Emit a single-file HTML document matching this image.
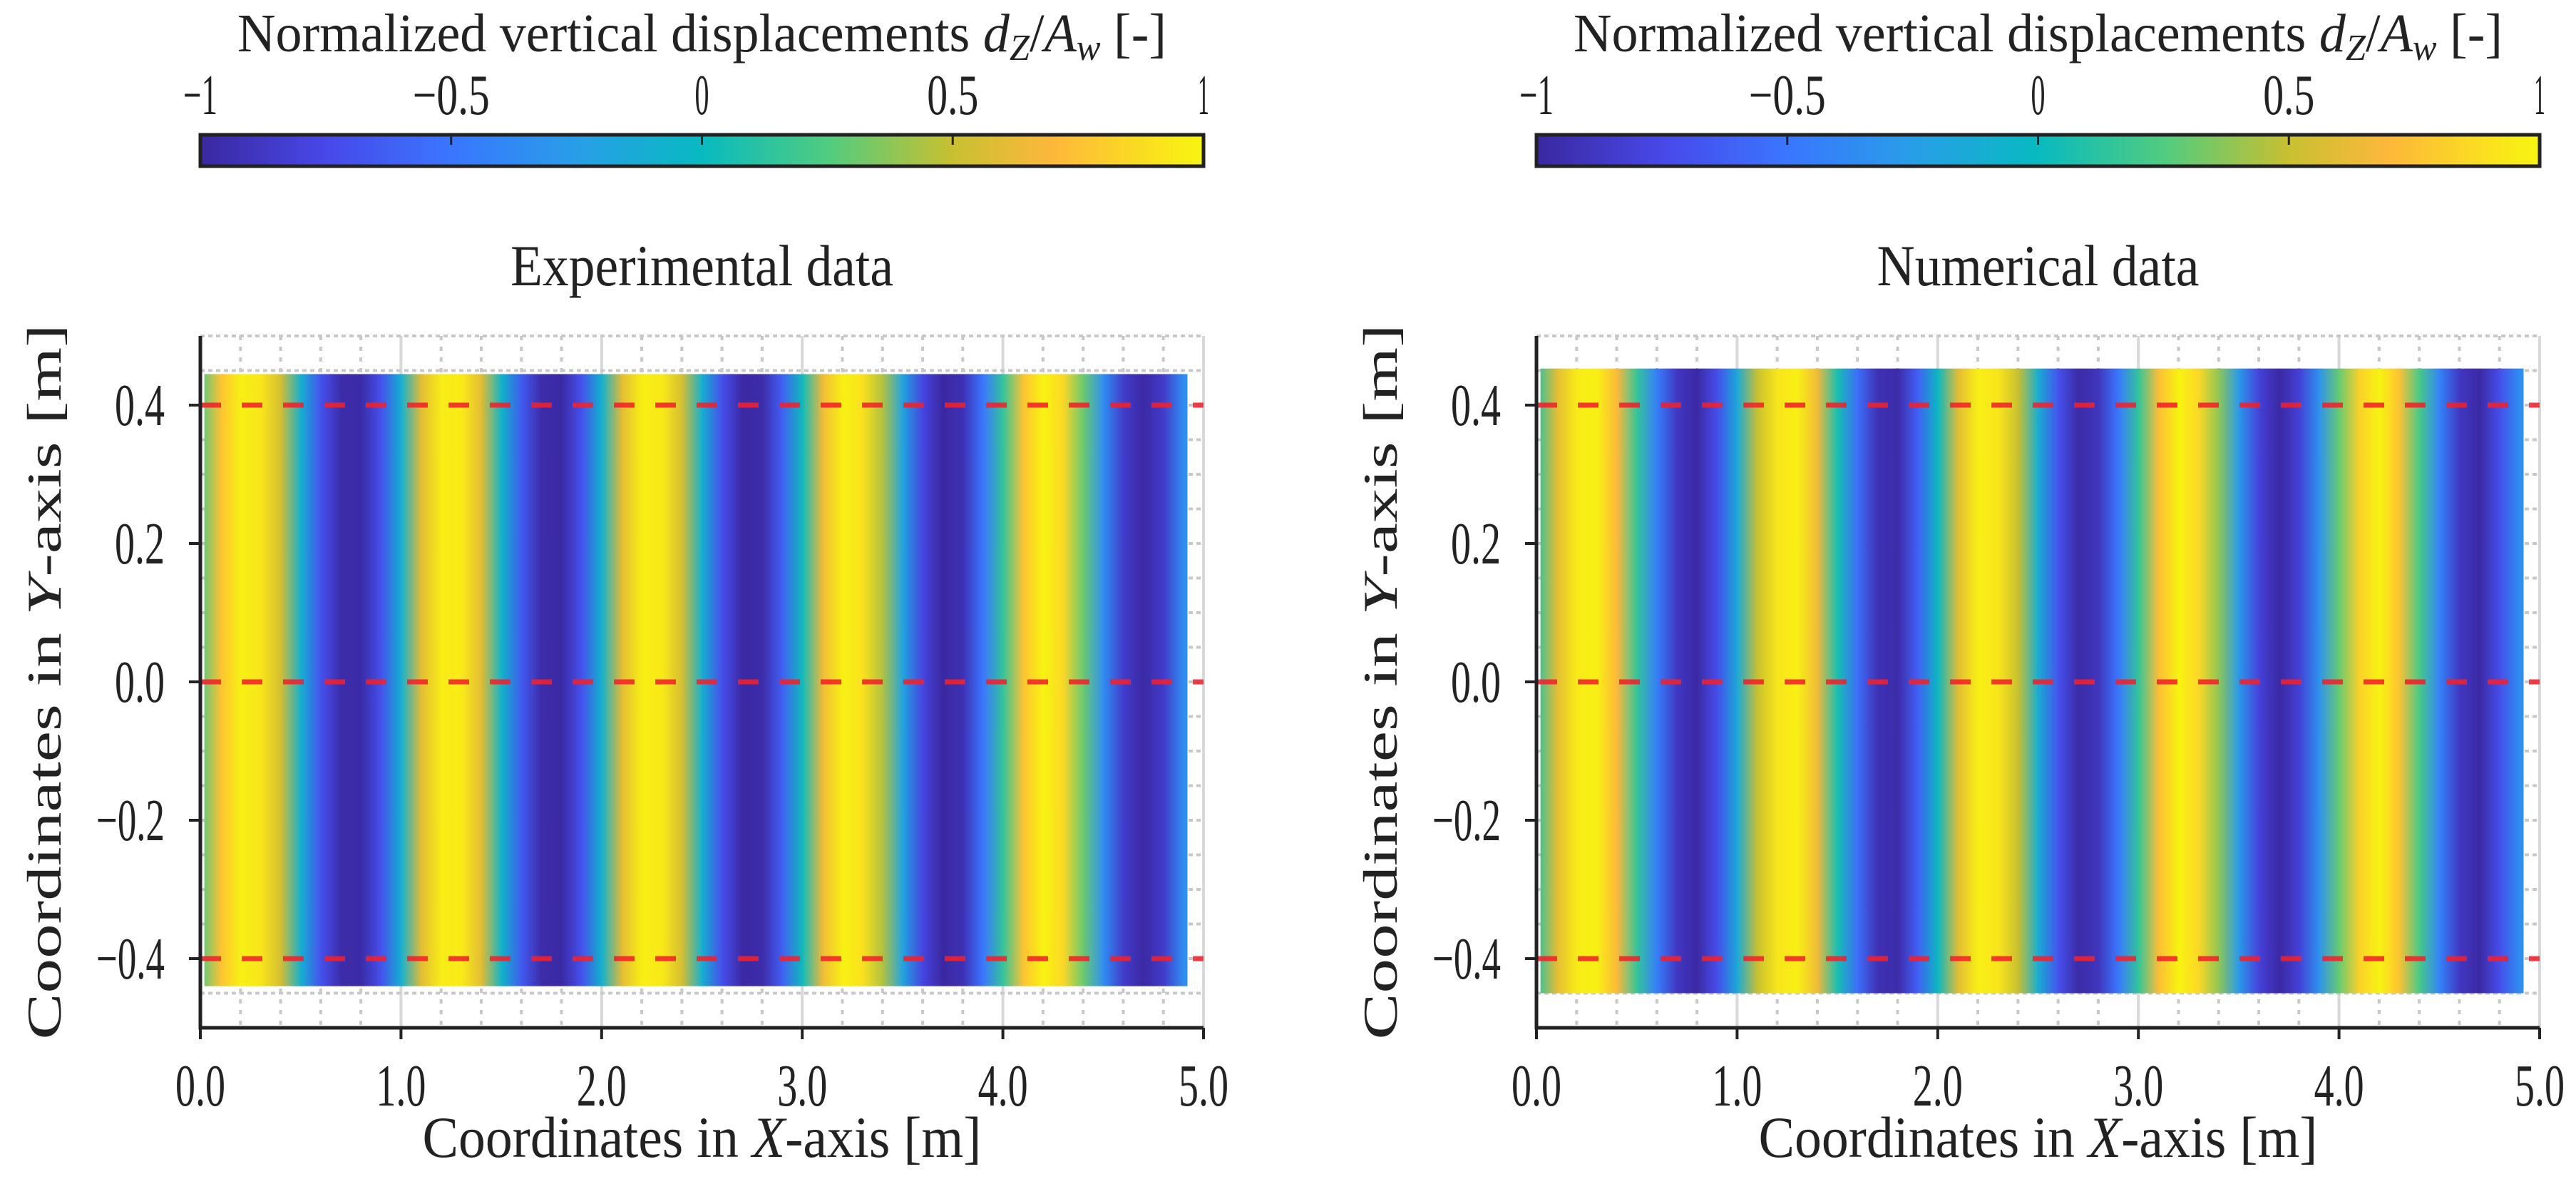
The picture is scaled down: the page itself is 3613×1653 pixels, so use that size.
<!DOCTYPE html>
<html><head><meta charset="utf-8"><style>
html,body{margin:0;padding:0;background:#fff}
svg{display:block}
text{font-family:"Liberation Serif",serif;fill:#222}
</style></head><body>
<svg id="fig" width="3613" height="1653" viewBox="0 0 3613 1653" xmlns="http://www.w3.org/2000/svg">
<defs id="defs"></defs>
</svg>
<script>
// ---- data ----
const xSamples = [0.0,0.1,0.2,0.3,0.4,0.5,0.6,0.7,0.8,0.9,1.0,1.1,1.2,1.3,1.4,1.5,1.6,1.7,1.8,1.9,2.0,2.1,2.2,2.3,2.4,2.5,2.6,2.7,2.8,2.9,3.0,3.1,3.2,3.3,3.4,3.5,3.6,3.7,3.8,3.9,4.0,4.1,4.2,4.3,4.4,4.5,4.6,4.7,4.8,4.9];
const expValues = [0.25,0.75,0.98,0.92,0.55,-0.1,-0.7,-0.97,-0.98,-0.7,-0.1,0.6,0.96,0.95,0.6,-0.05,-0.65,-0.97,-0.99,-0.7,-0.08,0.6,0.97,0.94,0.55,-0.1,-0.72,-0.99,-0.97,-0.62,0.02,0.65,0.98,0.9,0.45,-0.2,-0.78,-1.0,-0.93,-0.5,0.15,0.75,0.99,0.85,0.3,-0.35,-0.85,-0.99,-0.85,-0.35];
const numValues = [0.1,0.6,0.95,0.98,0.7,0.15,-0.45,-0.88,-0.99,-0.72,-0.15,0.5,0.92,0.97,0.65,0.05,-0.55,-0.93,-0.97,-0.62,-0.02,0.6,0.97,0.92,0.5,-0.12,-0.7,-0.98,-0.9,-0.48,0.15,0.73,0.99,0.85,0.38,-0.28,-0.8,-0.99,-0.82,-0.32,0.3,0.82,0.99,0.75,0.22,-0.42,-0.88,-0.99,-0.72,-0.35];
const xTickLabels = ["0.0","1.0","2.0","3.0","4.0","5.0"];
const xTicks = [0,1,2,3,4,5];
const yTickLabels = ["\u22120.4","\u22120.2","0.0","0.2","0.4"];
const yTicks = [-0.4,-0.2,0,0.2,0.4];
const cbTicks = [-1,-0.5,0,0.5,1];
const cbTickLabels = ["\u22121","\u22120.5","0","0.5","1"];
const refLines = [0.4,0,-0.4];

const NS="http://www.w3.org/2000/svg";
const svg=document.getElementById('fig');
const defs=document.getElementById('defs');
function el(tag,attrs,parent){const e=document.createElementNS(NS,tag);for(const k in attrs)e.setAttribute(k,attrs[k]);(parent||svg).appendChild(e);return e;}

const cmapStops=[[-1,[58,40,160]],[-0.75,[72,72,232]],[-0.5,[58,118,255]],[-0.25,[40,158,232]],[0,[8,186,192]],[0.25,[80,204,128]],[0.5,[200,192,48]],[0.7,[253,184,58]],[1,[248,245,16]]];
function cmap(v){v=Math.max(-1,Math.min(1,v));for(let i=0;i<cmapStops.length-1;i++){const a=cmapStops[i],b=cmapStops[i+1];if(v<=b[0]){const t=(v-a[0])/(b[0]-a[0]);const c=a[1].map((x,j)=>Math.round(x+(b[1][j]-x)*t));return `rgb(${c[0]},${c[1]},${c[2]})`;}}return 'rgb(248,245,16)';}

let gid=0;
function panel(ox, title, values, pname, dataTop, dataBot){
  const L=ox, R=ox+1407, T=471, B=1441;
  const sx=x=>L+(x/5)*(R-L);
  const sy=y=>956-y*970;
  const g=el('g',{});  
  for(let k=0;k<=25;k++){const x=k*0.2;const major=(k%5===0);
    const ln=el('line',{x1:sx(x),x2:sx(x),y1:T,y2:B,stroke:major?'#d8d8d8':'#c8c8c8','stroke-width':4,'stroke-dasharray':major?'none':'6 9'},g);
    }
  for(let k=0;k<=20;k++){const y=-0.5+k*0.05;
    const ln=el('line',{x1:L,x2:R,y1:sy(y),y2:sy(y),stroke:'#c8c8c8','stroke-width':4,'stroke-dasharray':'6 5'},g);
    }
  const clipId='clip'+(gid++);
  const cp=el('clipPath',{id:clipId},defs);
  el('rect',{x:sx(0.02),y:sy(dataTop),width:sx(4.92)-sx(0.02),height:sy(dataBot)-sy(dataTop)},cp);
  const hm=el('g',{'clip-path':`url(#${clipId})`},g);
  
  for(let i=0;i<xSamples.length;i++){
    const v0=values[i], v1=(i+1<values.length)?values[i+1]:values[i];
    const x1=(i+1<xSamples.length)?xSamples[i+1]:xSamples[i]+0.1;
    const id='g'+(gid++);
    const lg=el('linearGradient',{id:id,x1:0,x2:1,y1:0,y2:0},defs);
    el('stop',{offset:0,'stop-color':cmap(v0)},lg);
    el('stop',{offset:1,'stop-color':cmap(v1)},lg);
    const r=el('rect',{x:sx(xSamples[i]),y:sy(dataTop),width:sx(x1)-sx(xSamples[i])+0.8,height:sy(dataBot)-sy(dataTop),fill:`url(#${id})`},hm);
    
  }
  refLines.forEach(y=>{const l=el('line',{x1:L,x2:R,y1:sy(y),y2:sy(y),stroke:'#f4202a','stroke-width':7,'stroke-dasharray':'29 29','stroke-opacity':0.88},g);
    });
  const ax=el('path',{d:`M${L},${T} L${L},${B} L${R},${B}`,fill:'none',stroke:'#222','stroke-width':5},g);
  
  xTicks.forEach((x,i)=>{const t=el('line',{x1:sx(x),x2:sx(x),y1:B,y2:B+16,stroke:'#222','stroke-width':4},g);
    
    const tx=el('text',{x:sx(x),y:1550,'text-anchor':'middle','font-size':84,textLength:70,lengthAdjust:'spacingAndGlyphs'},g);
    tx.textContent=xTickLabels[i];});
  yTicks.forEach((y,i)=>{const t=el('line',{x1:L-16,x2:L,y1:sy(y),y2:sy(y),stroke:'#222','stroke-width':4},g);
    
    const lab=yTickLabels[i];
    const tx=el('text',{x:L-50,y:sy(y)+28,'text-anchor':'end','font-size':84,textLength:lab.length>3?96:70,lengthAdjust:'spacingAndGlyphs'},g);
    tx.textContent=lab;});
  const tt=el('text',{x:(L+R)/2,y:400,'text-anchor':'middle','font-size':82,textLength:title.length>15?537:452,lengthAdjust:'spacingAndGlyphs'},g);
  tt.textContent=title;
  const xl=el('text',{x:(L+R)/2,y:1622,'text-anchor':'middle','font-size':82,textLength:784,lengthAdjust:'spacingAndGlyphs'},g);
  xl.innerHTML='Coordinates in <tspan font-style="italic">X</tspan>-axis [m]';
  
  const yl=el('text',{x:0,y:0,'text-anchor':'middle','font-size':68,textLength:1003,lengthAdjust:'spacingAndGlyphs',transform:`translate(${L-196},956) rotate(-90)`},g);
  yl.innerHTML='Coordinates in <tspan font-style="italic">Y</tspan>-axis [m]';
  
  const cb=el('g',{},g);
  const cid='cb'+(gid++);
  const lg=el('linearGradient',{id:cid,x1:0,x2:1,y1:0,y2:0},defs);
  for(let k=0;k<=40;k++){const v=-1+k*0.05;el('stop',{offset:k/40,'stop-color':cmap(v)},lg);}
  el('rect',{x:L,y:189,width:R-L,height:44,fill:`url(#${cid})`,stroke:'#222','stroke-width':5},cb);
  cbTicks.forEach((v,i)=>{const x=L+(v+1)/2*(R-L);
    if(i>0&&i<cbTicks.length-1){const t=el('line',{x1:x,x2:x,y1:189,y2:203,stroke:'#222','stroke-width':3},cb);}
    const lab=cbTickLabels[i];const w={'\u22121':48,'\u22120.5':108,'0':20,'0.5':72,'1':16}[lab];
    const tx=el('text',{x:x,y:160,'text-anchor':'middle','font-size':80,textLength:w,lengthAdjust:'spacingAndGlyphs'},cb);
    tx.textContent=lab;});
  const cl=el('text',{x:(L+R)/2,y:72,'text-anchor':'middle','font-size':76,textLength:1303,lengthAdjust:'spacingAndGlyphs'},cb);
  cl.innerHTML='Normalized vertical displacements <tspan font-style="italic">d</tspan><tspan font-style="italic" font-size="52" dy="12">Z</tspan><tspan dy="-12">/</tspan><tspan font-style="italic">A</tspan><tspan font-style="italic" font-size="52" dy="12">w</tspan><tspan dy="-12"> [-]</tspan>';
  
}
panel(281,'Experimental data',expValues,'experimental-panel',0.445,-0.44);
panel(2155,'Numerical data',numValues,'numerical-panel',0.453,-0.45);
</script>
</body></html>
